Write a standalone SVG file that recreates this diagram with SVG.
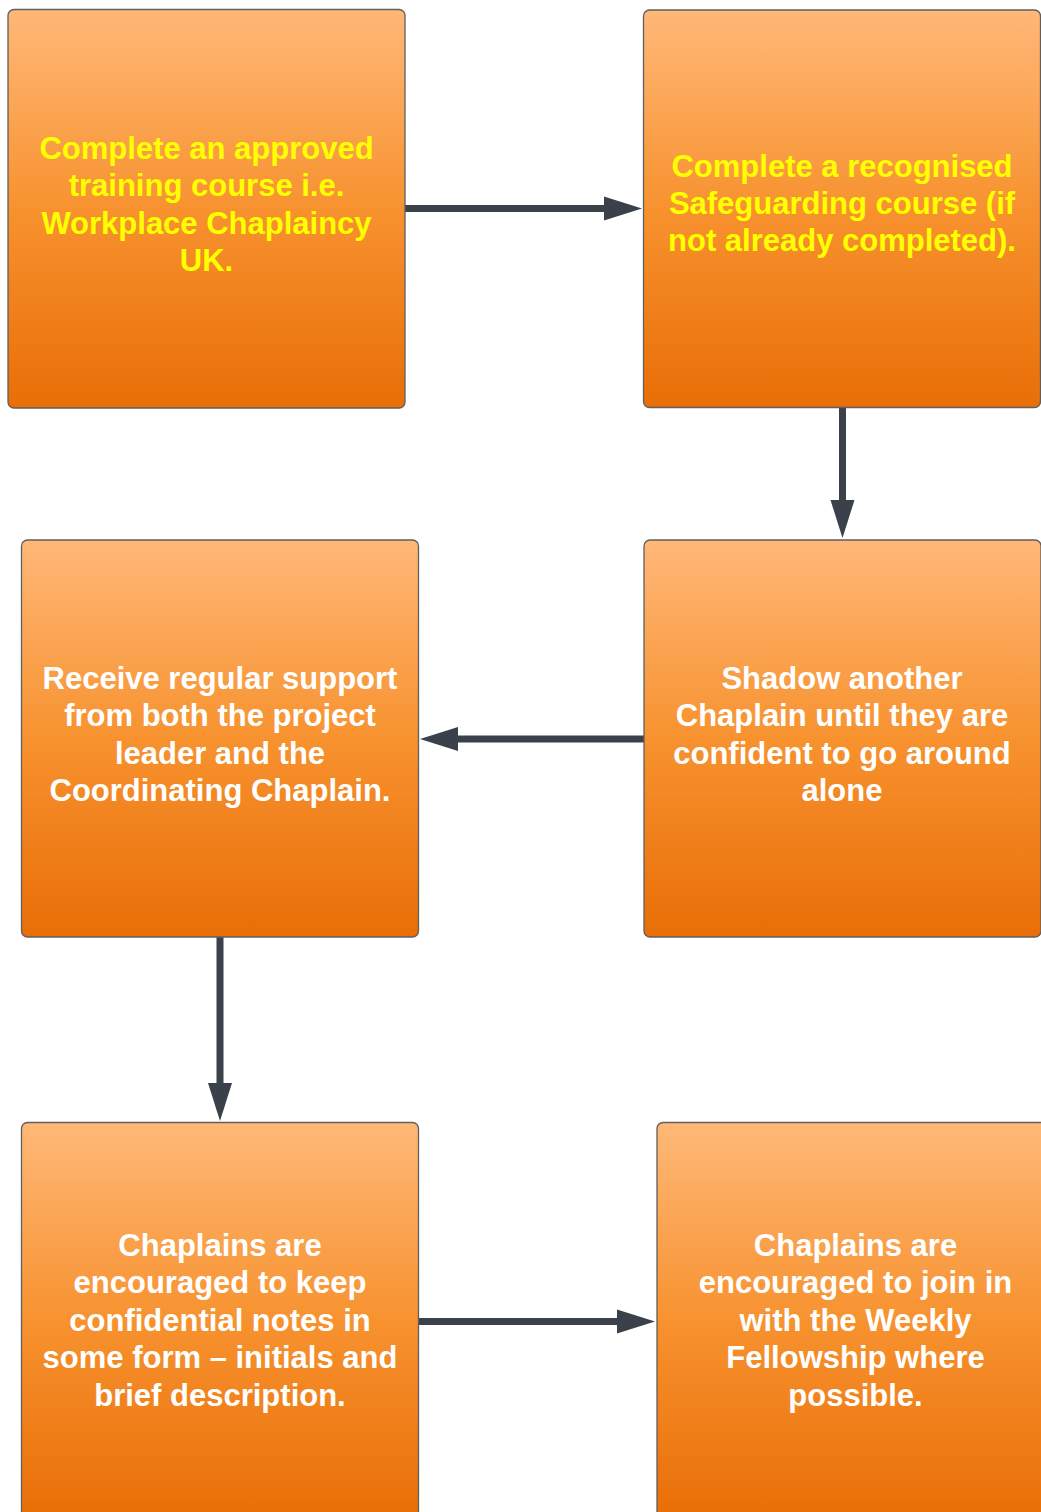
<svg xmlns="http://www.w3.org/2000/svg" width="1041" height="1512" viewBox="0 0 1041 1512">
<style>
.box{fill:url(#og);stroke:#5f5f5f;stroke-width:1.3}
.t{font-family:"Liberation Sans",Arial,sans-serif;font-weight:bold;font-size:31px;text-anchor:middle}
.y{fill:#FFFF00}
.w{fill:#FFFFFF}
.c{fill:none;stroke:#3A414A;stroke-width:7;marker-end:url(#ah)}
</style>
<defs>
<linearGradient id="og" x1="0" y1="0" x2="0" y2="1">
<stop offset="0" stop-color="#FFB878"/>
<stop offset="0.5" stop-color="#F7922F"/>
<stop offset="1" stop-color="#E96E07"/>
</linearGradient>
<marker id="ah" markerUnits="userSpaceOnUse" markerWidth="39" markerHeight="26" refX="0" refY="13" orient="auto" viewBox="0 0 39 26">
<path d="M0,1 L38,13 L0,25 Z" fill="#3A414A"/>
</marker>
</defs>
<rect width="1041" height="1512" fill="#FFFFFF"/>
<g id="connectors">
<path class="c" d="M405,208.5 H604"/>
<path class="c" d="M842.5,407 V500"/>
<path class="c" d="M644,739 H458"/>
<path class="c" d="M220,937 V1083"/>
<path class="c" d="M418,1321.5 H617"/>
</g>
<g id="n1">
<rect class="box" x="8" y="9.5" width="397" height="398.5" rx="6"/>
<text class="t y" x="206.5"><tspan x="206.5" y="158.5">Complete an approved</tspan><tspan x="206.5" y="196">training course i.e.</tspan><tspan x="206.5" y="233.5">Workplace Chaplaincy</tspan><tspan x="206.5" y="271">UK.</tspan></text>
</g>
<g id="n2">
<rect class="box" x="643.5" y="10" width="397" height="397.5" rx="6"/>
<text class="t y" x="842"><tspan x="842" y="176.5">Complete a recognised</tspan><tspan x="842" y="213.5">Safeguarding course (if</tspan><tspan x="842" y="251">not already completed).</tspan></text>
</g>
<g id="n3">
<rect class="box" x="644" y="540" width="397" height="397" rx="6"/>
<text class="t w" x="842"><tspan x="842" y="688.5">Shadow another</tspan><tspan x="842" y="726">Chaplain until they are</tspan><tspan x="842" y="763.5">confident to go around</tspan><tspan x="842" y="801">alone</tspan></text>
</g>
<g id="n4">
<rect class="box" x="21.5" y="540" width="397" height="397" rx="6"/>
<text class="t w" x="220"><tspan x="220" y="688.5">Receive regular support</tspan><tspan x="220" y="726">from both the project</tspan><tspan x="220" y="763.5">leader and the</tspan><tspan x="220" y="801">Coordinating Chaplain.</tspan></text>
</g>
<g id="n5">
<rect class="box" x="21.5" y="1122.5" width="397" height="397" rx="6"/>
<text class="t w" x="220"><tspan x="220" y="1255.5">Chaplains are</tspan><tspan x="220" y="1293">encouraged to keep</tspan><tspan x="220" y="1330.5">confidential notes in</tspan><tspan x="220" y="1368">some form – initials and</tspan><tspan x="220" y="1405.5">brief description.</tspan></text>
</g>
<g id="n6">
<rect class="box" x="657" y="1122.5" width="397" height="397" rx="6"/>
<text class="t w" x="855.5"><tspan x="855.5" y="1255.5">Chaplains are</tspan><tspan x="855.5" y="1293">encouraged to join in</tspan><tspan x="855.5" y="1330.5">with the Weekly</tspan><tspan x="855.5" y="1368">Fellowship where</tspan><tspan x="855.5" y="1405.5">possible.</tspan></text>
</g>
</svg>
